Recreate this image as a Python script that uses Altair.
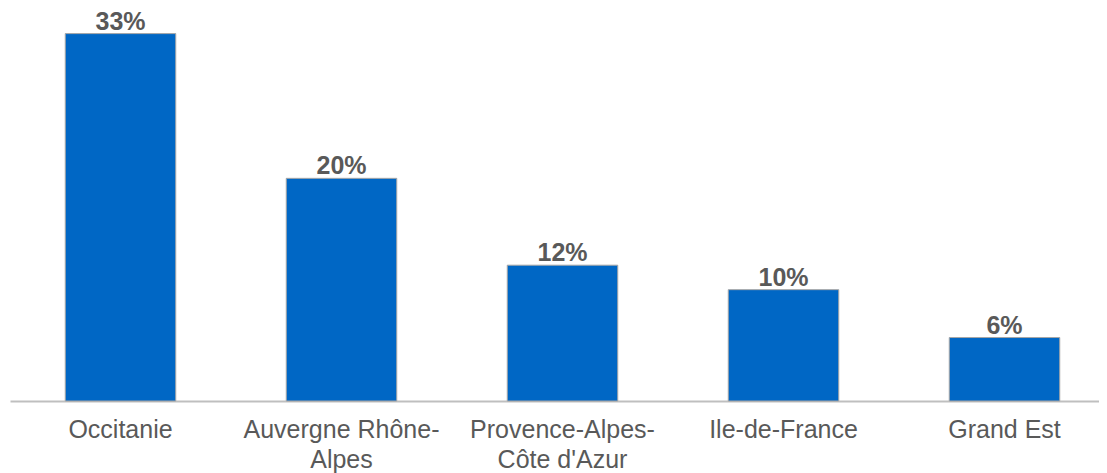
import altair as alt
import pandas as pd

regions = ["Occitanie", "Auvergne Rhône-|Alpes", "Provence-Alpes-|Côte d'Azur", "Ile-de-France", "Grand Est"]
shares = [33.0, 20.0, 12.2, 10.0, 5.7]
labels = ["33%", "20%", "12%", "10%", "6%"]

df = pd.DataFrame({"region": regions, "share": shares, "label": labels})

x = alt.X("region:N", sort=regions, title=None,
          scale=alt.Scale(paddingInner=0.5, paddingOuter=0.25, range=[0, 1105]),
          axis=alt.Axis(labelExpr="split(datum.label, '|')", labelAngle=0,
                        labelFont="Liberation Sans", labelFontSize=25, labelColor="#595959",
                        labelLineHeight=30, labelPadding=16, labelBaseline="top",
                        ticks=False, domainColor="#BFBFBF", domainWidth=2, grid=False,
                        labelLimit=400))
y = alt.Y("share:Q", title=None, axis=None, scale=alt.Scale(domain=[0, 35.3], nice=False))

bars = alt.Chart(df).mark_bar(color="#0067C5", stroke="#A6A6A6", strokeWidth=1).encode(x=x, y=y)
text = alt.Chart(df).mark_text(baseline="alphabetic", dy=-4, font="Liberation Sans", fontSize=25,
                               fontWeight="bold", color="#595959").encode(x=x, y=y, text="label:N")

chart = (bars + text).properties(
    width=1089, height=393,
    autosize=alt.AutoSizeParams(type="none"),
    padding={"left": 2, "top": 0, "right": 0, "bottom": 72}
).configure_view(stroke=None)

chart.save("out.html", embed_options={"renderer": "svg", "actions": False})
